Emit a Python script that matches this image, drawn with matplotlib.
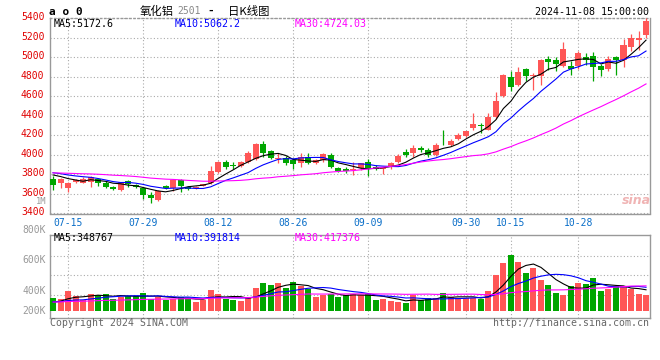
import matplotlib
matplotlib.use("Agg")
import matplotlib.pyplot as plt
import matplotlib.transforms as mtransforms
import numpy as np
import pandas as pd

plt.rcParams['font.family'] = ['DejaVu Sans Mono', 'Noto Sans CJK SC']

# trading days on the chart (exchange closed for mid-autumn and national day)
holidays = ['2024-09-16', '2024-09-17', '2024-10-01', '2024-10-02',
            '2024-10-03', '2024-10-04', '2024-10-07']
dates = [d for d in pd.bdate_range('2024-07-11', '2024-11-08')
         if d.strftime('%Y-%m-%d') not in holidays]

open_ = [3750, 3715, 3664, 3719, 3715, 3726, 3750, 3715, 3668, 3640,
         3732, 3692, 3664, 3589, 3538, 3681, 3657, 3743, 3668, 3657,
         3685, 3709, 3828, 3930, 3896, 3889, 3930, 3954, 4111, 4040,
         3960, 3971, 3947, 3920, 3981, 3913, 3947, 4000, 3862, 3859,
         3848, 3862, 3930, 3879, 3852, 3879, 3930, 4032, 4015, 4073,
         4050, 3998, 4124, 4103, 4165, 4188, 4274, 4305, 4257, 4383,
         4604, 4799, 4710, 4881, 4802, 4802, 4983, 4973, 4905, 4911,
         4905, 4997, 5014, 4911, 4881, 5000, 4973, 5099, 5170, 5226]
high = [3784, 3760, 3725, 3755, 3770, 3784, 3760, 3732, 3685, 3726,
        3743, 3700, 3675, 3623, 3640, 3690, 3750, 3750, 3681, 3685,
        3705, 3886, 3940, 3947, 3930, 3935, 4043, 4125, 4145, 4050,
        4022, 3988, 3964, 4015, 4022, 3954, 4015, 4015, 3879, 3879,
        3930, 3920, 3954, 3896, 3879, 3930, 4005, 4056, 4101, 4090,
        4067, 4118, 4257, 4160, 4220, 4247, 4427, 4325, 4427, 4639,
        4826, 4860, 4894, 4888, 4836, 4980, 5014, 5000, 5150, 4955,
        5065, 5041, 5048, 4930, 5007, 5007, 5188, 5235, 5269, 5395]
low = [3640, 3665, 3623, 3710, 3709, 3674, 3681, 3657, 3640, 3630,
       3674, 3665, 3545, 3511, 3528, 3650, 3630, 3623, 3640, 3650,
       3680, 3698, 3818, 3855, 3855, 3880, 3920, 3947, 3974, 3954,
       3913, 3896, 3852, 3879, 3903, 3906, 3930, 3869, 3828, 3818,
       3794, 3845, 3784, 3845, 3804, 3855, 3913, 3981, 3981, 4032,
       3981, 3988, 4103, 4093, 4155, 4180, 4250, 4223, 4250, 4370,
       4590, 4656, 4700, 4758, 4666, 4710, 4870, 4853, 4894, 4819,
       4880, 4922, 4751, 4802, 4853, 4812, 4898, 5058, 5075, 5200]
close = [3692, 3750, 3715, 3743, 3750, 3770, 3709, 3674, 3647, 3719,
         3702, 3674, 3589, 3555, 3634, 3657, 3743, 3685, 3651, 3674,
         3698, 3838, 3930, 3879, 3886, 3930, 4015, 4111, 4015, 3964,
         3968, 3913, 3903, 3981, 3920, 3947, 4005, 3879, 3838, 3835,
         3852, 3913, 3852, 3855, 3869, 3913, 3988, 3998, 4067, 4050,
         3998, 4101, 4118, 4144, 4206, 4240, 4318, 4298, 4383, 4553,
         4819, 4690, 4843, 4802, 4819, 4973, 4945, 4932, 5085, 4881,
         5041, 4973, 4894, 4864, 4980, 4973, 5126, 5200, 5200, 5370]
volume = [215000, 204000, 330000, 248000, 176000, 281000, 270000, 286000, 204000, 231000,
          248000, 248000, 297000, 204000, 231000, 187000, 204000, 231000, 215000, 149000,
          176000, 347000, 281000, 204000, 187000, 165000, 215000, 380000, 462000, 435000,
          462000, 380000, 479000, 407000, 369000, 231000, 270000, 286000, 231000, 258000,
          286000, 258000, 275000, 187000, 204000, 165000, 149000, 132000, 258000, 176000,
          215000, 215000, 297000, 226000, 215000, 215000, 215000, 204000, 330000, 600000,
          792000, 930000, 809000, 627000, 715000, 517000, 435000, 297000, 270000, 413000,
          468000, 451000, 545000, 330000, 369000, 413000, 413000, 369000, 286000, 270000]

# sessions before the window, only used to start the moving averages
prior_close = [3800, 3790, 3815, 3830, 3820, 3805, 3795, 3810, 3825, 3840,
               3835, 3820, 3810, 3800, 3815, 3830, 3825, 3810, 3800, 3820,
               3845, 3850, 3840, 3830, 3835, 3830, 3820, 3815, 3815]
prior_volume = [120000, 135000, 150000, 140000, 125000, 130000, 145000, 160000, 150000, 135000,
                140000, 155000, 165000, 150000, 140000, 145000, 160000, 170000, 155000, 140000,
                150000, 165000, 160000, 145000, 135000, 140000, 130000, 125000, 135000]

tick_dates = ['07-15', '07-29', '08-12', '08-26', '09-09', '09-30', '10-15', '10-28']
price_ticks = list(range(3400, 5401, 200))
ma_windows = [5, 10, 30]
ma_colors = ['#000000', '#0000ff', '#ff00ff']
price_ma_text = ['5172.6', '5062.2', '4724.03']
vol_ma_text = ['348767', '391814', '417376']
vol_labels = ['1M', '800K', '600K', '400K', '200K']

RED = '#ff5656'
GREEN = '#00a600'
GRID = '#aaaaaa'
BORDER = '#999999'

W, H = 660, 360
fig = plt.figure(figsize=(W / 100, H / 100), dpi=100)


def box(x0, y0, x1, y1):
    return [x0 / W, 1 - y1 / H, (x1 - x0) / W, (y1 - y0) / H]


def ftext(x, y, s, **kw):
    kw.setdefault('va', 'center')
    fig.text(x / W, 1 - y / H, s, **kw)


ax = fig.add_axes(box(50, 18, 650, 213.5))
axv = fig.add_axes(box(50, 234.5, 650, 318))

x = np.arange(len(dates))
o = np.array(open_)
c = np.array(close)
colors = np.where(c >= o, RED, GREEN)
labels = [d.strftime('%m-%d') for d in dates]
tick_idx = [labels.index(t) for t in tick_dates]

# candles
ax.vlines(x, low, high, colors=colors, lw=0.9, zorder=3)
ax.bar(x, np.maximum(np.abs(c - o), 8), bottom=np.minimum(o, c), width=0.8,
       color=colors, linewidth=0, zorder=3)

closes_all = pd.Series(prior_close + close)
vols_all = pd.Series(prior_volume + volume)
n0 = len(prior_close)
for w, col in zip(ma_windows, ma_colors):
    ax.plot(x, closes_all.rolling(w).mean().values[n0:], color=col, lw=0.8, zorder=4)
    axv.plot(x, vols_all.rolling(w).mean().values[n0:], color=col, lw=0.8, zorder=4)

axv.bar(x, volume, width=0.8, color=colors, linewidth=0, zorder=3)

for a in (ax, axv):
    a.set_xlim(-0.4, len(dates) - 0.47)
    a.set_xticks(tick_idx)
    a.grid(axis='x', color=GRID, lw=0.8, ls=(0, (1, 2)))
    for s in a.spines.values():
        s.set_color(BORDER)
        s.set_linewidth(1.0)
    a.tick_params(length=0)

ax.set_ylim(3400, 5400)
ax.set_yticks(price_ticks)
ax.grid(axis='y', color=GRID, lw=0.8, ls=(0, (1, 2)))
ax.spines['top'].set_linestyle((0, (1, 2)))
ax.tick_params(axis='y', labelsize=7, labelcolor='#e00000', pad=4)
shift = mtransforms.ScaledTranslation(0, 2 / 100, fig.dpi_scale_trans)
for lab in ax.get_yticklabels():
    lab.set_transform(lab.get_transform() + shift)
ax.set_xticklabels(tick_dates)
ax.tick_params(axis='x', labelsize=7, labelcolor='#0a6ec8', pad=3)

axv.set_ylim(-115500, 1262000)
axv.set_yticks([])
axv.set_xticklabels([])
for f in (0.279, 0.511, 0.743):
    axv.plot([0, 1], [f, f], transform=axv.transAxes, color=GRID, lw=0.8,
             ls=(0, (1, 2)), zorder=1)

# legends of the moving averages
for xp, name, val, col in zip((54, 175, 295), ma_windows, price_ma_text, ma_colors):
    ftext(xp, 24, f'MA{name}:{val}', color=col, fontsize=7.2)
for xp, name, val, col in zip((54, 175, 295), ma_windows, vol_ma_text, ma_colors):
    ftext(xp, 238, f'MA{name}:{val}', color=col, fontsize=7.2)

for lab, yp, fs in zip(vol_labels, (201, 230.3, 260, 290.7, 310.7), (6.3, 7, 7, 7, 7)):
    ftext(46, yp, lab, color='#999999', fontsize=fs, ha='right')

# header
ftext(49, 12, 'a o 0', fontsize=8, fontweight='bold')
ftext(140, 11, '氧化铝', fontsize=8.2, family=['Noto Sans CJK SC'])
ftext(177, 11.5, '2501', fontsize=7, color='#888888')
ftext(207, 11, '-', fontsize=8, fontweight='bold')
ftext(228, 11, '日K线图', fontsize=8.2, family=['Noto Sans CJK SC'])
ftext(649, 12, '2024-11-08 15:00:00', fontsize=7.2, ha='right')

ftext(50, 323, 'Copyright 2024 SINA.COM', fontsize=7.1, color='#666666')
ftext(649, 323, 'http://finance.sina.com.cn', fontsize=7.1, color='#666666', ha='right')
ftext(636, 201, 'sina', fontsize=9, color='#f0b4b4', fontweight='bold',
      style='italic', ha='center', family=['DejaVu Sans'])

fig.savefig('out.png', dpi=100)
